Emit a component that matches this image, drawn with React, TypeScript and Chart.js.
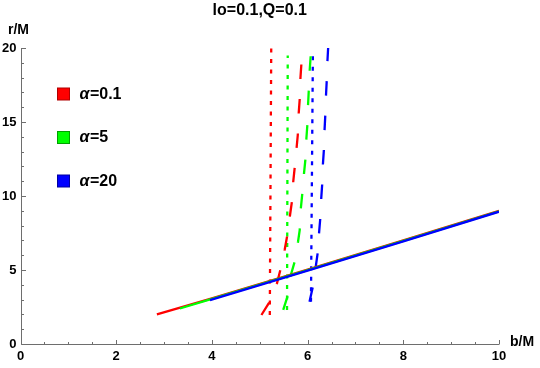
import React, { useEffect, useRef } from "react";
import { Chart, registerables } from "chart.js";

Chart.register(...registerables);

// ---- data (b/M on x, r/M on y) ----
const titleText = "lo=0.1,Q=0.1";
const seriesLabels = ["α=0.1", "α=5", "α=20"];
const seriesColors = ["#ff0000", "#00ff00", "#0000ff"];
const seriesBorders = ["#b00000", "#00a000", "#0000a0"];

const xTickValues = [0, 2, 4, 6, 8, 10];
const yTickValues = [0, 5, 10, 15, 20];

// dotted (near-vertical) curves
const redDotB = [5.21, 5.24];
const redDotR = [1.96, 20.0];
const greenDotB = [5.57, 5.585];
const greenDotR = [2.3, 19.5];
const blueDotB = [6.07, 6.11];
const blueDotR = [2.86, 19.5];

// dashed curves
const redDashB = [5.035, 5.21, 5.36, 5.43, 5.52, 5.57, 5.63, 5.67, 5.7, 5.73, 5.77, 5.795, 5.815, 5.835, 5.85, 5.87, 5.89];
const redDashR = [1.96, 2.86, 4.1, 5.0, 6.35, 7.25, 8.65, 9.57, 10.97, 11.91, 13.26, 14.12, 15.63, 16.53, 17.95, 18.92, 20.0];
const greenDashB = [5.49, 5.59, 5.65, 5.73, 5.8, 5.835, 5.86, 5.89, 5.925, 5.955, 5.975, 5.995, 6.01, 6.025, 6.045, 6.065];
const greenDashR = [2.3, 3.31, 4.66, 5.56, 6.91, 7.7, 9.21, 10.18, 11.53, 12.5, 13.9, 14.8, 16.2, 17.16, 18.56, 19.48];
const blueDashB = [6.04, 6.11, 6.165, 6.21, 6.24, 6.265, 6.285, 6.305, 6.32, 6.34, 6.355, 6.37, 6.385, 6.4, 6.415, 6.43];
const blueDashR = [2.86, 3.87, 5.11, 6.13, 7.52, 8.49, 9.84, 10.79, 12.14, 13.1, 14.5, 15.47, 16.82, 17.79, 19.14, 20.05];

// solid (nearly coincident) lines
const redSolidB = [2.85, 4.0, 6.0, 8.0, 10.0];
const redSolidR = [2.0, 3.08, 5.02, 7.0, 9.0];
const greenSolidB = [3.33, 4.0, 6.0, 8.0, 10.0];
const greenSolidR = [2.4, 3.05, 4.99, 6.97, 8.97];
const blueSolidB = [3.96, 6.0, 8.0, 10.0];
const blueSolidR = [2.97, 4.96, 6.94, 8.94];

const FONT = "'Liberation Sans', Arial, sans-serif";

function pts(b: number[], r: number[]) {
  return b.map((v, i) => ({ x: v, y: r[i] }));
}

const axesPlugin = {
  id: "mAxes",
  beforeDatasetsDraw(chart: any) {
    const { ctx, scales } = chart;
    const xs = scales.x;
    const ys = scales.y;
    const px0 = Math.round(xs.getPixelForValue(0)) + 0.5;
    const py0 = Math.round(ys.getPixelForValue(0)) + 0.5;
    ctx.save();
    ctx.strokeStyle = "#6e6e6e";
    ctx.lineWidth = 1;
    ctx.beginPath();
    ctx.moveTo(px0, py0);
    ctx.lineTo(xs.getPixelForValue(10), py0);
    ctx.moveTo(px0, py0);
    ctx.lineTo(px0, ys.getPixelForValue(20));
    for (let i = 0; i <= 20; i++) {
      const v = i * 0.5;
      const p = Math.round(xs.getPixelForValue(v)) + 0.5;
      const len = i % 4 === 0 ? 4.5 : 2.5;
      ctx.moveTo(p, py0);
      ctx.lineTo(p, py0 - len);
    }
    for (let v = 0; v <= 20; v++) {
      const p = Math.round(ys.getPixelForValue(v)) + 0.5;
      const len = v % 5 === 0 ? 4.5 : 2.5;
      ctx.moveTo(px0, p);
      ctx.lineTo(px0 + len, p);
    }
    ctx.stroke();
    ctx.restore();
  },
  afterDraw(chart: any) {
    const { ctx, scales } = chart;
    ctx.save();
    ctx.fillStyle = "#000";
    ctx.font = `bold 16px ${FONT}`;
    ctx.textAlign = "center";
    ctx.textBaseline = "middle";
    ctx.fillText(titleText, (scales.x.left + scales.x.right) / 2, 11);
    ctx.font = `bold 14px ${FONT}`;
    ctx.textAlign = "left";
    ctx.fillText("r/M", 8, 30);
    ctx.fillText("b/M", 510, 342);
    const ys = [94, 137.5, 181];
    seriesLabels.forEach((lab, i) => {
      const cy = ys[i];
      ctx.fillStyle = seriesColors[i];
      ctx.fillRect(57.5, cy - 6, 12, 12);
      ctx.strokeStyle = seriesBorders[i];
      ctx.lineWidth = 1;
      ctx.strokeRect(57.5, cy - 6, 12, 12);
      ctx.fillStyle = "#000";
      ctx.textBaseline = "middle";
      ctx.font = `italic bold 16px ${FONT}`;
      const a = lab.slice(0, 1);
      ctx.fillText(a, 79.5, cy + 0.5);
      const w = ctx.measureText(a).width;
      ctx.font = `bold 16px ${FONT}`;
      ctx.fillText(lab.slice(1), 79.5 + w + 0.5, cy + 0.5);
    });
    ctx.restore();
  },
};

export default function App() {
  const ref = useRef<HTMLCanvasElement | null>(null);
  useEffect(() => {
    if (!ref.current) return;
    const W = 2.3;
    const dot = [4, 6.5];
    const dash = [14.5, 20];
    const mk = (data: any[], color: string, borderDash: number[], order: number) => ({
      data,
      borderColor: color,
      backgroundColor: color,
      borderWidth: W,
      borderDash,
      borderCapStyle: "butt" as const,
      pointRadius: 0,
      showLine: true,
      fill: false,
      tension: 0,
      order,
    });
    const chart = new Chart(ref.current, {
      type: "scatter",
      data: {
        datasets: [
          mk(pts(redDotB, redDotR), seriesColors[0], dot, 9),
          mk(pts(greenDotB, greenDotR), seriesColors[1], dot, 8),
          mk(pts(blueDotB, blueDotR), seriesColors[2], dot, 7),
          mk(pts(redDashB, redDashR), seriesColors[0], dash, 6),
          mk(pts(greenDashB, greenDashR), seriesColors[1], dash, 5),
          mk(pts(blueDashB, blueDashR), seriesColors[2], dash, 4),
          mk(pts(redSolidB, redSolidR), seriesColors[0], [], 3),
          mk(pts(greenSolidB, greenSolidR), seriesColors[1], [], 2),
          mk(pts(blueSolidB, blueSolidR), seriesColors[2], [], 1),
        ],
      },
      options: {
        animation: false,
        responsive: false,
        layout: { padding: { left: 0, right: 41, top: 48, bottom: 0 } },
        plugins: { legend: { display: false }, tooltip: { enabled: false }, title: { display: false } },
        scales: {
          x: {
            type: "linear",
            min: 0,
            max: 10,
            afterFit: (s: any) => { s.height = 24; },
            afterBuildTicks: (s: any) => { s.ticks = xTickValues.map((v) => ({ value: v })); },
            grid: { display: false, drawTicks: false },
            border: { display: false },
            ticks: { padding: 5, color: "#000", font: { family: FONT, size: 13, weight: "bold" } },
          },
          y: {
            type: "linear",
            min: 0,
            max: 20,
            afterFit: (s: any) => { s.width = 20.5; },
            afterBuildTicks: (s: any) => { s.ticks = yTickValues.map((v) => ({ value: v })); },
            grid: { display: false, drawTicks: false },
            border: { display: false },
            ticks: { padding: 4, color: "#000", font: { family: FONT, size: 13, weight: "bold" } },
          },
        },
      },
      plugins: [axesPlugin],
    } as any);
    return () => chart.destroy();
  }, []);
  return (
    <div style={{ position: "fixed", left: 0, top: 0, width: 540, height: 368, background: "#fff" }}>
      <canvas ref={ref} width={540} height={368} />
    </div>
  );
}
